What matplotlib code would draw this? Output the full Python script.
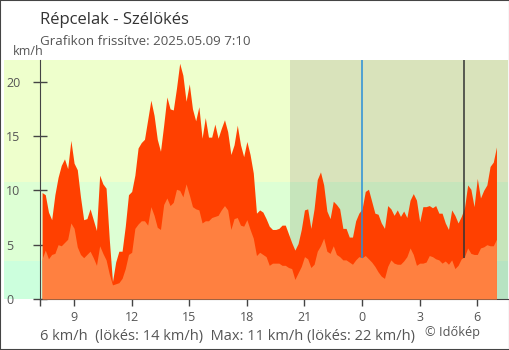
import matplotlib
matplotlib.use("Agg")
import matplotlib.pyplot as plt
from matplotlib.patches import Rectangle
import numpy as np

plt.rcParams['font.family'] = ['Open Sans', 'DejaVu Sans']

# Szöveg
TITLE = "Répcelak - Szélökés"
SUBTITLE = "Grafikon frissítve: 2025.05.09 7:10"
UNIT = "km/h"
SUMMARY = "6 km/h  (lökés: 14 km/h)  Max: 11 km/h (lökés: 22 km/h)"
CREDIT = "© Időkép"

# Mérések: 10 percenként, 7:20-tól másnap 7:00-ig (órában, 24 felett = másnap)
START_HOUR = 7 + 20 / 60
STEP_HOUR = 10 / 60

gust = [
    9.8, 9.6, 8.0, 7.3, 9.6, 11.2, 12.3, 12.9, 12.0, 14.6,
    12.5, 11.9, 9.4, 7.3, 7.4, 8.3, 7.3, 6.3, 11.4, 10.6,
    10.2, 5.5, 1.6, 3.4, 4.4, 4.4, 6.7, 9.6, 9.9, 11.4,
    13.9, 14.4, 14.7, 16.5, 18.3, 16.9, 14.7, 13.6, 16.0, 18.6,
    17.5, 17.4, 19.4, 21.7, 20.6, 18.2, 19.8, 17.5, 16.4, 17.7,
    14.8, 16.7, 14.9, 14.9, 16.1, 14.8, 15.7, 16.5, 15.4, 13.3,
    14.2, 16.0, 14.2, 13.1, 14.5, 13.3, 11.6, 7.9, 8.2, 8.0,
    7.4, 6.7, 6.4, 6.4, 6.5, 6.8, 6.8, 6.0, 5.2, 4.5,
    5.1, 6.4, 8.2, 8.3, 6.5, 8.3, 11.0, 11.7, 10.5, 8.1,
    7.4, 9.0, 8.7, 8.3, 6.5, 6.5, 5.7, 5.7, 7.2, 7.9,
    8.3, 9.9, 10.1, 9.0, 7.9, 7.8, 7.0, 6.5, 8.6, 8.3,
    7.7, 8.2, 7.6, 8.1, 7.5, 9.1, 9.7, 9.1, 7.1, 8.5,
    8.5, 8.6, 8.4, 8.6, 7.9, 7.9, 7.0, 6.4, 8.2, 7.7,
    7.0, 7.6, 8.4, 10.5, 10.1, 8.5, 11.1, 9.3, 10.0, 10.5,
    12.2, 12.6, 14.0,
]

mean = [
    3.7, 4.5, 3.7, 4.1, 4.2, 5.0, 4.9, 5.2, 5.5, 7.0,
    6.5, 4.8, 4.1, 3.8, 4.1, 4.4, 3.8, 3.1, 4.9, 4.2,
    3.6, 2.3, 1.3, 1.4, 1.5, 1.9, 2.8, 4.1, 4.3, 6.5,
    6.9, 7.2, 7.2, 6.8, 8.5, 7.7, 6.6, 6.4, 8.7, 9.3,
    8.6, 8.9, 10.1, 10.0, 9.4, 10.6, 9.6, 8.5, 8.3, 8.2,
    7.0, 7.2, 7.2, 7.5, 7.6, 7.7, 8.2, 8.6, 8.2, 6.4,
    7.4, 7.5, 6.8, 6.7, 7.3, 6.4, 5.6, 4.0, 4.3, 4.1,
    3.9, 3.1, 3.3, 3.3, 3.3, 3.1, 3.1, 2.9, 2.8, 1.8,
    2.4, 3.0, 3.9, 3.7, 2.9, 3.2, 4.4, 4.9, 5.6, 4.4,
    4.2, 4.9, 4.1, 3.9, 3.6, 3.6, 3.4, 3.2, 3.6, 3.9,
    3.8, 4.0, 3.7, 3.4, 3.0, 2.5, 2.1, 1.9, 3.0, 3.6,
    3.3, 3.2, 3.2, 3.5, 3.9, 4.7, 4.1, 3.1, 3.3, 3.3,
    3.4, 4.0, 3.9, 3.7, 3.6, 3.3, 3.5, 3.2, 3.6, 2.8,
    3.1, 3.7, 3.9, 4.7, 4.2, 4.1, 4.1, 4.7, 4.8, 5.0,
    4.9, 4.9, 5.5,
]

# Tengelyek, sávok
X_TICKS = [9, 12, 15, 18, 21, 24, 27, 30]
X_LABELS = ["9", "12", "15", "18", "21", "0", "3", "6"]
Y_TICKS = [0, 5, 10, 15, 20]
X_LIM = (5.35, 31.6)
AXIS_HOUR = 7.245
Y_MAX = 22
BAND_EDGES = [0, 3.5, 10.8, 22]
DAY_COLORS = ["#ccffdd", "#ddffd4", "#eeffcc"]
NIGHT_COLORS = ["#b7e3c2", "#c6e5bb", "#d9e3bb"]
SUNSET = 20.25
MIDNIGHT = 24.0
SUNRISE = 29.33
MARK_BOTTOM = 3.75

GUST_COLOR = "#ff4000"
MEAN_COLOR = "#ff8040"
TEXT_COLOR = "#555555"
AXIS_COLOR = "#444444"

hours = START_HOUR + STEP_HOUR * np.arange(len(gust))

fig = plt.figure(figsize=(5.1, 3.5), dpi=100)
ax = fig.add_axes([4 / 510, 51 / 350, 504 / 510, 239 / 350])
ax.set_xlim(*X_LIM)
ax.set_ylim(0, Y_MAX)

# háttérsávok (nappal / éjszaka)
for lo, hi, day, night in zip(BAND_EDGES[:-1], BAND_EDGES[1:], DAY_COLORS, NIGHT_COLORS):
    ax.add_patch(Rectangle((X_LIM[0], lo), SUNSET - X_LIM[0], hi - lo,
                           facecolor=day, lw=0, zorder=0))
    ax.add_patch(Rectangle((SUNSET, lo), X_LIM[1] - SUNSET, hi - lo,
                           facecolor=night, lw=0, zorder=0))

ax.fill_between(hours, 0, gust, color=GUST_COLOR, lw=0, zorder=2)
ax.fill_between(hours, 0, mean, color=MEAN_COLOR, lw=0, zorder=3)

ax.vlines(MIDNIGHT, MARK_BOTTOM, Y_MAX, color="#2a8fd8", lw=1.1, zorder=4)
ax.vlines(SUNRISE, MARK_BOTTOM, Y_MAX, color="#333333", lw=1.1, zorder=4)

for side in ("top", "right"):
    ax.spines[side].set_visible(False)
ax.spines["left"].set_position(("data", AXIS_HOUR))
ax.spines["left"].set_color(AXIS_COLOR)
ax.spines["bottom"].set_color(AXIS_COLOR)
ax.spines["bottom"].set_bounds(AXIS_HOUR, X_LIM[1])
ax.spines["left"].set_zorder(5)

ax.set_yticks(Y_TICKS)
ax.tick_params(axis="y", direction="inout", length=9.5, width=1, color=AXIS_COLOR,
               labelsize=9, labelcolor=TEXT_COLOR, pad=20)
for lbl in ax.get_yticklabels():
    lbl.set_horizontalalignment("left")

ax.set_xticks(X_TICKS)
ax.set_xticklabels(X_LABELS)
ax.set_xticks([AXIS_HOUR], minor=True)
ax.tick_params(axis="x", which="both", direction="out", length=5, width=1,
               color=AXIS_COLOR, labelsize=9, labelcolor=TEXT_COLOR, pad=3.5)
ax.get_xticklines()[2 * X_TICKS.index(24)].set_color("#2a8fd8")

# szövegek
fig.text(40 / 510, 1 - 24 / 350, TITLE, fontsize=12, color="#333333", va="baseline")
fig.text(40 / 510, 1 - 45 / 350, SUBTITLE, fontsize=9.6, color=TEXT_COLOR, va="baseline")
fig.text(13 / 510, 1 - 55 / 350, UNIT, fontsize=9, color=TEXT_COLOR, va="baseline")
fig.text(40 / 510, 1 - 340 / 350, SUMMARY, fontsize=10.5, color=TEXT_COLOR, va="baseline")
fig.text(425 / 510, 1 - 336 / 350, CREDIT, fontsize=9.2, color=TEXT_COLOR, va="baseline")

fig.patches.append(Rectangle((0, 0), 1, 1, transform=fig.transFigure, fill=False,
                             ec=AXIS_COLOR, lw=1.5))

fig.savefig("out.png", dpi=100)
